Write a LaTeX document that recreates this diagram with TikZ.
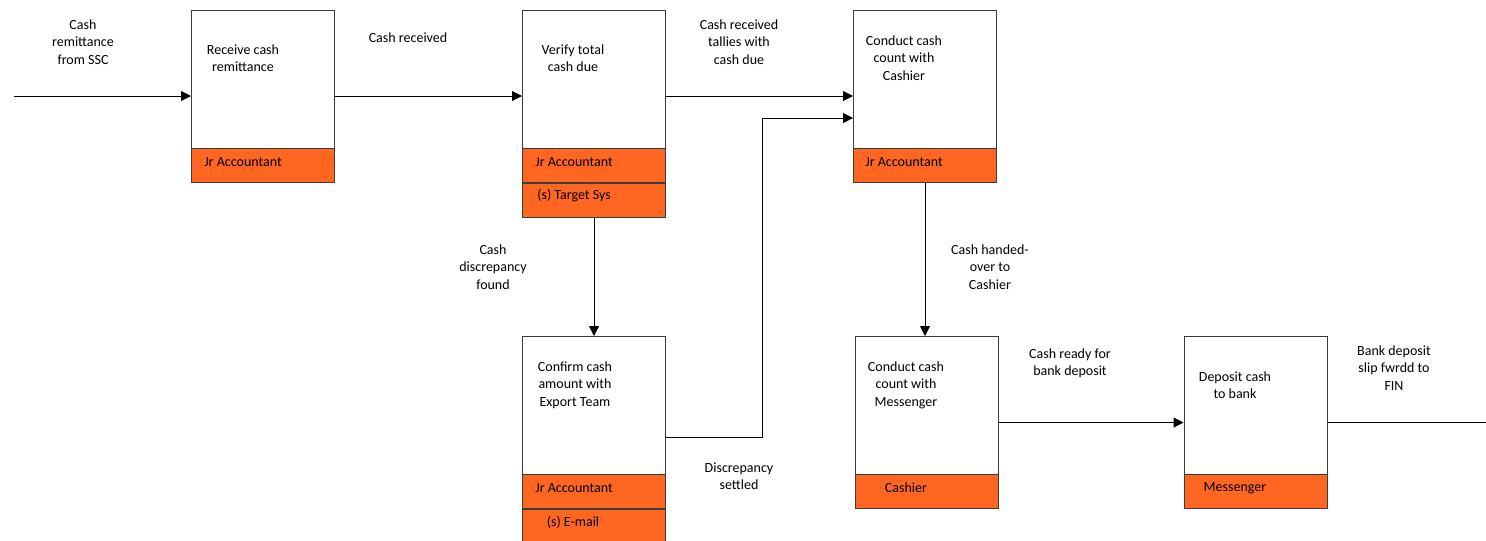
\documentclass[tikz,border=0pt]{standalone}
\usepackage{fontspec}
\setmainfont{Carlito}
\usetikzlibrary{arrows.meta,calc}
\definecolor{bandor}{RGB}{255,102,33}
\definecolor{edgegray}{RGB}{60,60,60}
\begin{document}
\begin{tikzpicture}[x=0.75pt,y=-0.75pt,
  proc/.style={draw=edgegray,fill=white,line width=0.75pt,minimum width=107.25pt,minimum height=129pt,inner sep=0pt},
  role/.style={draw=edgegray,fill=bandor,line width=0.75pt,minimum width=107.25pt,minimum height=25.5pt,inner sep=0pt},
  txt/.style={align=center,inner sep=0pt,font=\fontsize{10.5}{13.1}\selectfont},
  flow/.style={line width=0.75pt,-{Triangle[length=7.5pt,width=7.5pt]}},
  plainline/.style={line width=0.75pt}]
\useasboundingbox (0,0) rectangle (1486,540);

% process boxes
\node[proc] (b1) at (263,96) {};
\node[proc] (b2) at (594,96) {};
\node[proc] (b3) at (925,96) {};
\node[proc] (b4) at (594,422.5) {};
\node[proc] (b5) at (926.5,422.5) {};
\node[proc] (b6) at (1255.5,422.5) {};

% role bands
\node[role,anchor=south] (b1r) at (b1.south) {};
\node[role,anchor=south] (b2r) at (b2.south) {};
\node[role,anchor=north] (b2s) at (b2.south) {};
\node[role,anchor=south] (b3r) at (b3.south) {};
\node[role,anchor=south] (b4r) at (b4.south) {};
\node[role,anchor=north] (b4s) at (b4.south) {};
\node[role,anchor=south] (b5r) at (b5.south) {};
\node[role,anchor=south] (b6r) at (b6.south) {};

% box texts
\node[txt] (b1t) at (243,58) {Receive cash\\remittance};
\node[txt] (b2t) at (573,58) {Verify total\\cash due};
\node[txt] (b3t) at (904,58) {Conduct cash\\count with\\Cashier};
\node[txt] (b4t) at (575,385) {Confirm cash\\amount with\\Export Team};
\node[txt] (b5t) at (906,385) {Conduct cash\\count with\\Messenger};
\node[txt] (b6t) at (1235,385) {Deposit cash\\to bank};

% role texts
\node[txt] (b1rt) at (243,162) {Jr Accountant};
\node[txt] (b2rt) at (574,162) {Jr Accountant};
\node[txt] (b2st) at (574,196) {(s) Target Sys};
\node[txt] (b3rt) at (904,162) {Jr Accountant};
\node[txt] (b4rt) at (574,488) {Jr Accountant};
\node[txt] (b4st) at (573,522) {(s) E-mail};
\node[txt] (b5rt) at (906,488) {Cashier};
\node[txt] (b6rt) at (1235,488) {Messenger};

% connector labels
\node[txt] (l1) at (83,42) {Cash\\remittance\\from SSC};
\node[txt] (l2) at (408,38) {Cash received};
\node[txt] (l3) at (739,42) {Cash received\\tallies with\\cash due};
\node[txt] (l4) at (493,267) {Cash\\discrepancy\\found};
\node[txt] (l5) at (739,476) {Discrepancy\\settled};
\node[txt] (l6) at (990,267) {Cash handed-\\over to\\Cashier};
\node[txt] (l7) at (1070,363) {Cash ready for\\bank deposit};
\node[txt] (l8) at (1394,368) {Bank deposit\\slip fwrdd to\\FIN};

% connectors
\coordinate (src) at (14,96);
\coordinate (jn) at (762,118);
\coordinate (sink) at (1486,422.5);
\draw[flow] (src) -- (b1.west);
\draw[flow] (b1.east) -- (b2.west);
\draw[flow] (b2.east) -- (b3.west);
\draw[flow] (b2s.south) -- (b4.north);
\draw[flow] (b3.south) -- (b3.south |- b5.north);
\draw[flow] ([yshift=-11.6pt]b4.east) -| (jn) -- (jn -| b3.west);
\draw[flow] (b5.east) -- (b6.west);
\draw[plainline] (b6.east) -- (sink);
\end{tikzpicture}
\end{document}
